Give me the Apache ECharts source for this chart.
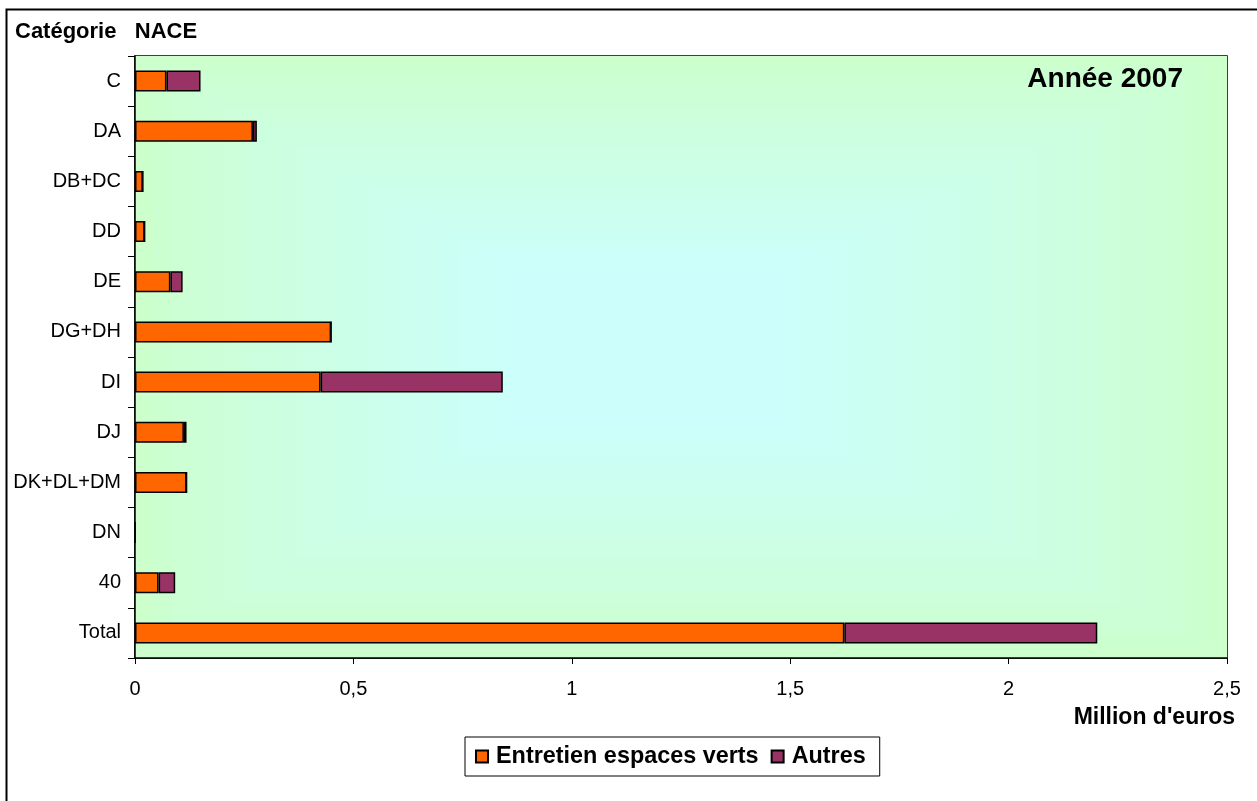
<!DOCTYPE html>
<html>
<head>
<meta charset="utf-8">
<script src="https://cdn.jsdelivr.net/npm/echarts@6/dist/echarts.min.js"></script>
<style>
  html, body { margin: 0; padding: 0; background: #fff; }
  #chart { width: 1257px; height: 801px; }
</style>
</head>
<body>
<div id="chart"></div>
<script>
// NACE categories, top to bottom
const categories = ['C', 'DA', 'DB+DC', 'DD', 'DE', 'DG+DH', 'DI', 'DJ', 'DK+DL+DM', 'DN', '40', 'Total'];
// Expenses in million euros, 2007
const entretienEspacesVerts = [0.072, 0.270, 0.018, 0.022, 0.081, 0.449, 0.425, 0.112, 0.118, 0, 0.054, 1.624];
const autres = [0.078, 0.009, 0, 0, 0.028, 0, 0.417, 0.006, 0, 0, 0.038, 0.579];
const xTicks = [0, 0.5, 1, 1.5, 2, 2.5];

const FONT = '"Liberation Sans", Arial, sans-serif';
const GRID = { left: 135, right: 30, top: 56, bottom: 143 };
const W = 1257, H = 801;

// Plot-area fill: rectangular gradient from light green edges to light cyan centre
function plotBackground() {
  const L = GRID.left, R = W - GRID.right, T = GRID.top, B = H - GRID.bottom;
  const cx = L + (R - L) * 0.46, cy = T + (B - T) * 0.48;
  const steps = 28;
  const edge = [204, 255, 204], centre = [204, 255, 252];
  const rects = [];
  for (let i = 0; i < steps; i++) {
    const t = i / steps;
    const f = Math.pow(Math.min(1, t / 0.75), 0.85);
    const c = edge.map((e, k) => Math.round(e + (centre[k] - e) * f));
    const x0 = L + (cx - L) * t, x1 = R - (R - cx) * t;
    const y0 = T + (cy - T) * t, y1 = B - (B - cy) * t;
    rects.push({
      type: 'rect', silent: true,
      shape: { x: x0, y: y0, width: x1 - x0, height: y1 - y0 },
      style: { fill: 'rgb(' + c.join(',') + ')' }
    });
  }
  return { type: 'group', z: -10, children: rects };
}

const chart = echarts.init(document.getElementById('chart'));
chart.setOption({
  backgroundColor: '#fff',
  animation: false,
  textStyle: { fontFamily: FONT },
  title: [
    { text: 'Catégorie   NACE', left: 10, top: 16,
      textStyle: { fontFamily: FONT, fontSize: 22, fontWeight: 'bold', color: '#000' } },
    { text: 'Année 2007', right: 69, top: 60,
      textStyle: { fontFamily: FONT, fontSize: 28, fontWeight: 'bold', color: '#000' } },
    { text: "Million d'euros", right: 17, top: 701,
      textStyle: { fontFamily: FONT, fontSize: 23, fontWeight: 'bold', color: '#000' } }
  ],
  graphic: [
    plotBackground(),
    { type: 'rect', z: -20, silent: true,
      shape: { x: 6.5, y: 9.5, width: 1400, height: 1000 },
      style: { fill: '#fff', stroke: '#000', lineWidth: 2 } }
  ],
  legend: {
    left: 465, top: 737,
    padding: [8, 14, 8, 10],
    itemGap: 12,
    itemWidth: 12, itemHeight: 12,
    icon: 'rect',
    borderColor: '#000', borderWidth: 1,
    backgroundColor: '#fff',
    textStyle: { fontFamily: FONT, fontSize: 23.4, fontWeight: 'bold', color: '#000', padding: [0, 0, 0, 3] },
    data: ['Entretien espaces verts', 'Autres']
  },
  grid: {
    left: GRID.left, right: GRID.right, top: GRID.top, bottom: GRID.bottom,
    show: true, borderColor: '#000', borderWidth: 1.5, backgroundColor: 'transparent'
  },
  xAxis: {
    type: 'value', min: xTicks[0], max: xTicks[xTicks.length - 1], interval: 0.5,
    splitLine: { show: false },
    axisLine: { show: true, lineStyle: { color: '#000', width: 1.5 } },
    axisTick: { show: true, length: 6, lineStyle: { color: '#000', width: 1 } },
    axisLabel: {
      margin: 21, fontFamily: FONT, fontSize: 20, color: '#000',
      formatter: v => String(v).replace('.', ',')
    }
  },
  yAxis: {
    type: 'category', data: categories, inverse: true,
    axisLine: { show: true, lineStyle: { color: '#000', width: 1.5 } },
    axisTick: { show: true, length: 7, lineStyle: { color: '#000', width: 1 } },
    axisLabel: { margin: 14, fontFamily: FONT, fontSize: 20, color: '#000' }
  },
  series: [
    {
      name: 'Entretien espaces verts', type: 'bar', stack: 'total',
      data: entretienEspacesVerts, barWidth: 21,
      itemStyle: { color: '#FF6600', borderColor: '#000', borderWidth: 1.5 }
    },
    {
      name: 'Autres', type: 'bar', stack: 'total',
      data: autres, barWidth: 21,
      itemStyle: { color: '#993366', borderColor: '#000', borderWidth: 1.5 }
    }
  ]
});
</script>
</body>
</html>
